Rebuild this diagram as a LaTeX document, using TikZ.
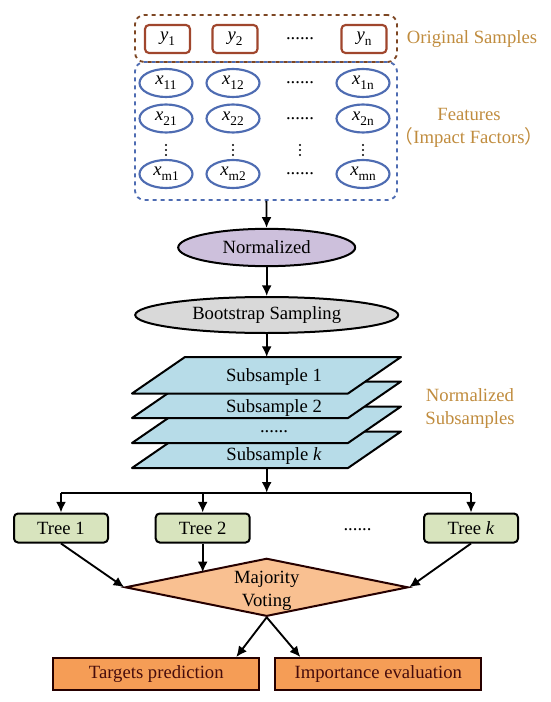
\documentclass[tikz,border=0pt]{standalone}
\usepackage{fontspec}
\setmainfont{Liberation Serif}
\newfontfamily\cjkfont{Noto Sans CJK SC}
\usetikzlibrary{shapes.geometric,arrows.meta}

\definecolor{ochre}{RGB}{192,140,62}
\definecolor{samplered}{RGB}{160,70,45}
\definecolor{samplebrown}{RGB}{125,70,35}
\definecolor{featblue}{RGB}{78,108,178}
\definecolor{lavender}{RGB}{205,192,220}
\definecolor{sheetblue}{RGB}{183,220,232}
\definecolor{treegreen}{RGB}{216,228,190}
\definecolor{voteorange}{RGB}{249,192,145}
\definecolor{outorange}{RGB}{245,157,86}
\definecolor{outtext}{RGB}{70,12,12}

% variable with lowered subscript
\newcommand{\fac}[2]{\textit{#1}\raisebox{-0.55ex}{\fontsize{10}{10}\selectfont #2}}

\begin{document}
\begin{tikzpicture}[x=0.75pt, y=-0.75pt, font=\fontsize{14}{17}\selectfont,
sample/.style={rectangle, draw=samplered, line width=1.6pt, rounded corners=3pt, fill=white, minimum width=33.75pt, minimum height=21pt, inner sep=0pt},
feat/.style={ellipse, draw=featblue, line width=1.6pt, fill=white, minimum width=39.75pt, minimum height=21pt, inner sep=0pt},
group/.style={rectangle, dashed, line width=1.4pt, rounded corners=7pt, minimum width=196.5pt, inner sep=0pt},
oval/.style={ellipse, draw, line width=1.5pt, minimum height=28pt, inner sep=0pt},
sheet/.style={draw, line width=1.5pt, fill=sheetblue, line join=round},
tree/.style={rectangle, draw, line width=1.5pt, rounded corners=3pt, fill=treegreen, minimum width=70.5pt, minimum height=21.75pt, inner sep=0pt},
result/.style={rectangle, draw=black!85!red, line width=1.5pt, fill=outorange, text=outtext, minimum width=154.5pt, minimum height=24pt, inner sep=0pt},
dot/.style={circle, fill, inner sep=0pt, minimum size=1.6pt},
label/.style={text=ochre, align=center},
arrow/.style={-{Latex[length=8pt,width=7.5pt]}, line width=1.4pt}]
\useasboundingbox (0,0) rectangle (550,702);

% input data
\node[group, draw=featblue, minimum height=103.5pt] (featbox) at (266,131) {};
\node[group, draw=samplebrown, minimum height=35.25pt] (samplebox) at (266,38.5) {};
\node[sample] (y1) at (167.5,39) {\fac{y}{1}};
\node[sample] (y2) at (235,39) {\fac{y}{2}};
\node (ydots) at (300,39) {......};
\node[sample] (yn) at (364,39) {\fac{y}{n}};
\foreach \r/\yy in {1/83, 2/118.5, m/174} {
  \node[feat] (x\r1) at (166,\yy) {\fac{x}{\r1}};
  \node[feat] (x\r2) at (233,\yy) {\fac{x}{\r2}};
  \node (xdots\r) at (300,\yy) {......};
  \node[feat] (x\r n) at (363,\yy) {\fac{x}{\r n}};
}
% vertical dots between the rows
\foreach \xx in {166, 233, 300, 363}
  \foreach \yy in {145, 150, 155}
    \node[dot] at (\xx,\yy) {};
\node[label] (origlabel) at (472,39) {Original Samples};
\node[label] (featlabel) at (469,128) {Features\\{\cjkfont （}Impact Factors{\cjkfont ）}};

% preprocessing
\node[oval, fill=lavender, minimum width=132.75pt] (norm) at (266.7,247.5) {Normalized};
\node[oval, fill=black!15, minimum width=197.25pt, minimum height=27pt] (boot) at (266.7,315) {Bootstrap Sampling};

% subsamples, back to front
\foreach \nm/\top/\ty/\txt in {subk/431.5/455.7/{Subsample \textit{k}}, subd/406.5/432/{......}, sub2/381.5/407.7/{Subsample 2}, sub1/357/376.7/{Subsample 1}} {
  \draw[sheet] (132,\top+36.5) -- (185,\top) -- (401,\top) -- (348,\top+36.5) -- cycle;
  \node (\nm) at (274,\ty) {\txt};
  \coordinate (\nm-top) at (266.7,\top);
  \coordinate (\nm-bot) at (266.7,\top+36.5);
}
\node[label] (sublabel) at (470,408.5) {Normalized\\Subsamples};
\coordinate (split) at (266.7,492.7);

% forest
\node[tree] (tree1) at (61,528) {Tree 1};
\node[tree] (tree2) at (202.7,528) {Tree 2};
\node (treedots) at (357.5,530) {......};
\node[tree] (treek) at (471,528) {Tree \textit{k}};
\node[diamond, draw=black!85!red, line width=1.5pt, fill=voteorange, aspect=4.88, minimum width=212.25pt, minimum height=43.5pt, inner sep=0pt] (vote) at (266.7,587.3) {};
\node[align=center] (votetext) at (266.7,591) {Majority\\Voting};
\node[result] (pred) at (156.3,674) {Targets prediction};
\node[result] (imp) at (378.3,674) {Importance evaluation};

\draw[arrow] (featbox) -- (norm);
\draw[arrow] (norm) -- (boot);
\draw[arrow] (boot) -- (sub1-top);
\draw[arrow] (subk-bot) -- (split);
\draw[line width=1.4pt] (tree1 |- split) -- (treek |- split);
\foreach \t in {tree1, tree2, treek}
  \draw[arrow] (\t |- split) -- (\t);
\draw[arrow] (tree1.south) -- (vote.west);
\draw[arrow] (tree2) -- (tree2 |- vote.north west);
\draw[arrow] (treek.south) -- (vote.east);
\draw[arrow] (vote.south) -- ([xshift=-18pt]pred.north east);
\draw[arrow] (vote.south) -- ([xshift=19.5pt]imp.north west);
\end{tikzpicture}
\end{document}
